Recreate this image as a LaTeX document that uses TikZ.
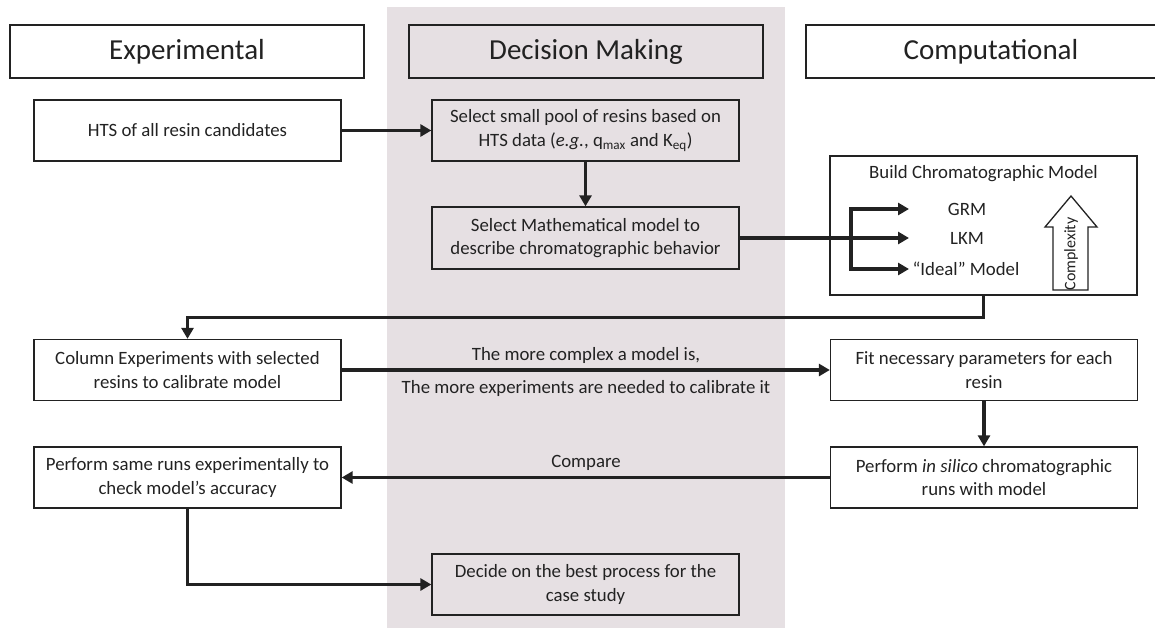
\documentclass[tikz,border=0pt]{standalone}
\usepackage{fontspec}
\setmainfont{Carlito}
\usetikzlibrary{arrows.meta}
\definecolor{band}{HTML}{E6E0E3}
\definecolor{ink}{HTML}{222222}
\tikzset{
  hdr/.style={draw=ink, line width=2.8pt, minimum width=354pt, minimum height=53pt, inner sep=0pt, font=\fontsize{29}{33}\selectfont, text=ink},
  box/.style={draw=ink, line width=1.3pt, minimum width=307pt, minimum height=61pt, inner sep=0pt, align=center, font=\fontsize{18.8}{23.5}\selectfont, text=ink},
  lbl/.style={inner sep=0pt, align=center, font=\fontsize{18.8}{23.5}\selectfont, text=ink},
  tip/.style={-{Triangle[length=11pt,width=12pt]}},
  conn/.style={draw=ink, line width=3.6pt, tip},
}
\begin{document}
\begin{tikzpicture}[x=1pt, y=-1pt]
\useasboundingbox (0,0) rectangle (1155,628);
\fill[band] (387,7) rectangle (785,628);
% headers
\node[hdr] (hE) at (187,51.5) {Experimental};
\node[hdr, fill=band] (hD) at (586,51.5) {Decision Making};
\node[hdr, minimum width=370pt] (hC) at (991,51.5) {Computational};
% boxes
\node[box] (hts) at (187.5,130.5) {HTS of all resin candidates};
\node[box] (pool) at (585.5,130.5) {Select small pool of resins based on\\HTS data (\emph{e.g.}, q\textsubscript{max} and K\textsubscript{eq})};
\node[box, minimum height=62pt] (math) at (585.5,238) {Select Mathematical model to\\describe chromatographic behavior};
\node[box, minimum height=139pt] (build) at (983.5,225.5) {};
\node[box] (col) at (187.5,370) {Column Experiments with selected\\resins to calibrate model};
\node[box] (fit) at (984,370) {Fit necessary parameters for each\\resin};
\node[box] (same) at (187.5,477.5) {Perform same runs experimentally to\\check model’s accuracy};
\node[box] (sil) at (984,477.5) {Perform \emph{in silico} chromatographic\\runs with model};
\node[box] (dec) at (585.5,584.5) {Decide on the best process for the\\case study};
% build content
\node[lbl] (btitle) at (983.5,174) {Build Chromatographic Model};
\node[lbl] (grm) at (967,209) {GRM};
\node[lbl] (lkm) at (967,238) {LKM};
\node[lbl] (ideal) at (966,269) {“Ideal” Model};
\coordinate (tG) at (909,209);
\coordinate (tL) at (909,238);
\coordinate (tI) at (909,269);
\coordinate (sp) at (851,238);
\draw[draw=ink, line width=1.3pt, line join=miter, fill=white] (1071,196) -- (1097,227) -- (1088,227) -- (1088,290) -- (1053,290) -- (1053,227) -- (1045,227) -- cycle;
\node[lbl, rotate=90, font=\fontsize{16}{18}\selectfont] (cx) at (1071,254) {Complexity};
% connectors
\draw[conn] (hts.east) -- (pool.west);
\draw[conn] (pool.south) -- (math.north);
\draw[conn] (math.east) -- (tL);
\draw[conn, {Triangle[length=11pt,width=12pt]}-{Triangle[length=11pt,width=12pt]}, line join=miter] (tG) -| (sp) |- (tI);
\draw[conn, line join=miter] (build.south) -- ++(0,22) -| (col.north);
\draw[conn] (col.east) -- (fit.west);
\node[lbl] (m1) at (586,355) {The more complex a model is,};
\node[lbl] (m2) at (586,388) {The more experiments are needed to calibrate it};
\draw[conn] (fit.south) -- (sil.north);
\draw[conn] (sil.west) -- (same.east);
\node[lbl] (cmp) at (586,463) {Compare};
\draw[conn, line join=miter] (same.south) |- (dec.west);
\end{tikzpicture}
\end{document}
